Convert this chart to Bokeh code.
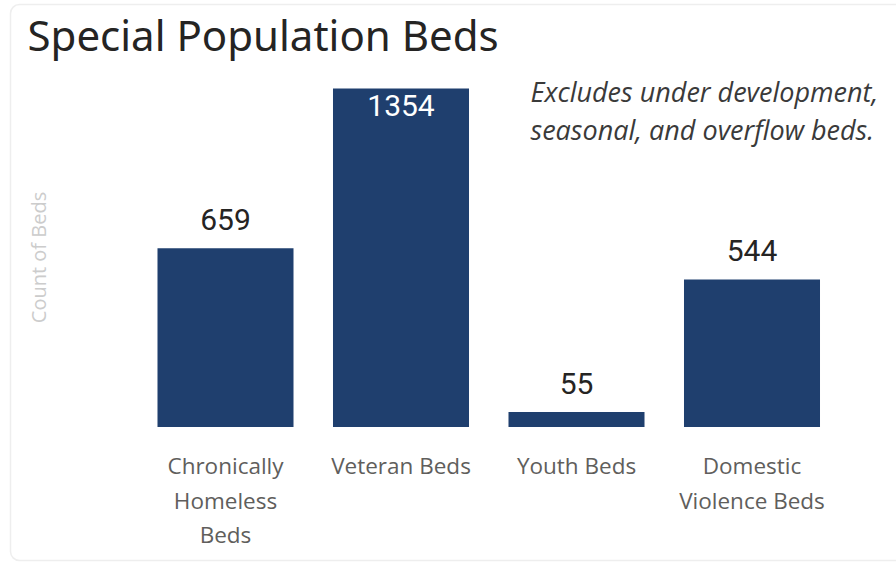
import numpy as np
from bokeh.plotting import figure
from bokeh.models import ColumnDataSource, Range1d, Label, BoxAnnotation
from bokeh.core.properties import value
from bokeh.embed import file_html
from bokeh.resources import INLINE

# ---- data ----
categories = ["Chronically Homeless Beds", "Veteran Beds", "Youth Beds", "Domestic Violence Beds"]
tick_labels = ["Chronically\nHomeless\nBeds", "Veteran Beds", "Youth Beds", "Domestic\nViolence Beds"]
beds = [659, 1354, 55, 544]
title_text = "Special Population Beds"
note_text = "Excludes under development,\nseasonal, and overflow beds."
y_axis_title = "Count of Beds"

Y_MAX = 1248  # visible value-axis maximum: the tallest bar is cut off there, as in the original

BAR = "#1f3f6e"
W, H = 896, 563

# layout of the plotting area (pixels)
X0_PX, STEP_PX = 225.0, 175.5        # centre of first category, category spacing
BASE_PX, PX_PER_BED = 426.5, 0.2712  # baseline (from top), pixels per bed

x_start = -X0_PX / STEP_PX
y_start = -(H - BASE_PX) / PX_PER_BED

p = figure(width=W, height=H,
           x_range=Range1d(x_start, x_start + W / STEP_PX),
           y_range=Range1d(y_start, y_start + H / PX_PER_BED),
           output_backend="svg", toolbar_location=None,
           min_border=0)
p.background_fill_color = "white"
p.border_fill_color = "white"
p.outline_line_color = None
p.xaxis.visible = False
p.yaxis.visible = False
p.xgrid.visible = False
p.ygrid.visible = False

idx = np.arange(len(categories))
vals = np.array(beds, dtype=float)
shown = np.minimum(vals, Y_MAX)
clipped = vals > Y_MAX

src = ColumnDataSource(dict(x=idx, top=shown))
p.vbar(x="x", top="top", width=0.775, source=src, fill_color=BAR, line_color=None)

src_out = ColumnDataSource(dict(x=idx[~clipped], y=shown[~clipped],
                                t=[str(b) for b, k in zip(beds, clipped) if not k]))
src_in = ColumnDataSource(dict(x=idx[clipped], y=shown[clipped],
                               t=[str(b) for b, k in zip(beds, clipped) if k]))
p.text(x="x", y="y", text="t", source=src_out, text_align="center", text_baseline="bottom",
       y_offset=-18, text_font=value("Roboto"), text_font_size="30px", text_color="#252423")
p.text(x="x", y="y", text="t", source=src_in, text_align="center", text_baseline="top",
       y_offset=6, text_font=value("Roboto"), text_font_size="30px", text_color="white")

# category labels under the baseline
src_cat = ColumnDataSource(dict(x=idx, y=np.zeros(len(idx)), t=tick_labels))
p.text(x="x", y="y", text="t", source=src_cat, text_align="center", text_baseline="top",
       y_offset=23, text_font=value("Open Sans"), text_font_size="22.5px", text_color="#605e5c",
       text_line_height=1.12)

# card border
p.add_layout(BoxAnnotation(left=10, right=W + 20, top=H - 4, bottom=H - 560,
                           left_units="screen", right_units="screen", top_units="screen", bottom_units="screen",
                           fill_alpha=0, line_color="#c6c6c6", line_width=1.5, border_radius=9,
                           level="underlay"))

# title, note, value-axis title
p.add_layout(Label(x=27, y=H - 5, x_units="screen", y_units="screen", text=title_text,
                   text_font="Noto Sans", text_font_size="42px", text_color="#252423",
                   text_baseline="top"))
p.add_layout(Label(x=530, y=H - 72, x_units="screen", y_units="screen", text=note_text,
                   text_font="Open Sans", text_font_size="27px", text_font_style="italic",
                   text_color="#3a3a3a", text_baseline="top", text_line_height=1.04))
p.add_layout(Label(x=38, y=H - 257, x_units="screen", y_units="screen", text=y_axis_title,
                   angle=np.pi / 2, text_align="center", text_baseline="middle",
                   text_font="Open Sans", text_font_size="20px", text_color="#cccccc"))

open("out.html", "w").write(file_html(p, INLINE))
